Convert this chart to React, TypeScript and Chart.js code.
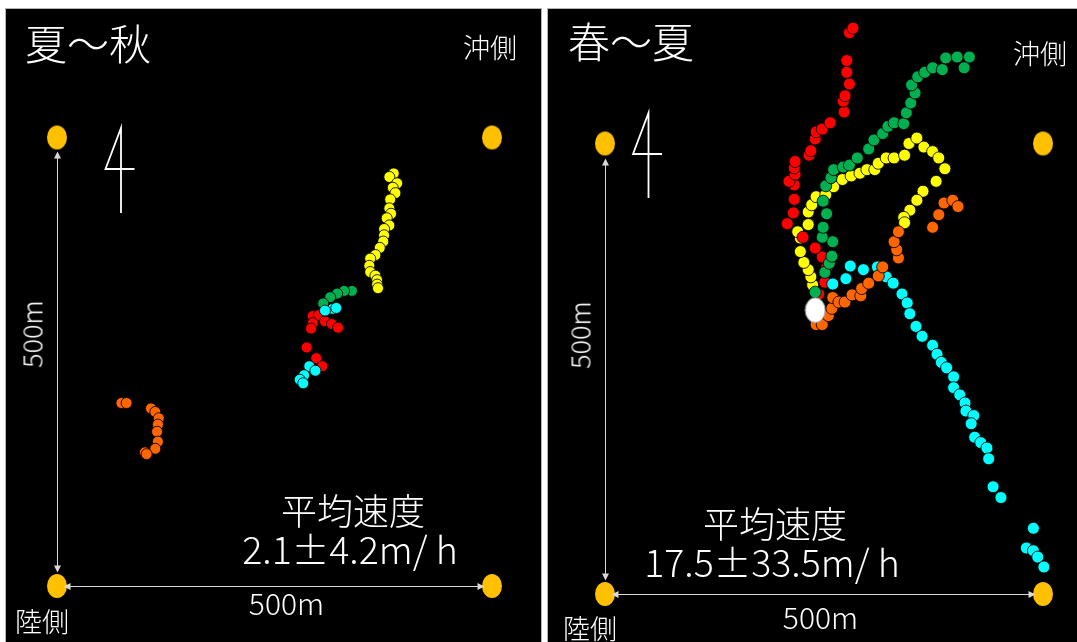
import React, { useEffect, useRef } from "react";
import { Chart, registerables } from "chart.js";

Chart.register(...registerables);

// Coordinates in metres. Origin = land-side corner buoy (陸側), x to the right, y toward the offshore side.
const buoys: [number, number][] = [[0, 0], [500, 0], [0, 500], [500, 500]];

// 夏〜秋
const akiYellow: [number, number][] = [[387,460],[382,456],[391,449],[386,444],[389,438],[383,431],[382,421],[384,415],[379,410],[382,402],[376,398],[376,391],[375,384],[371,377],[366,369],[360,365],[359,357],[360,350],[366,346],[368,341],[368,336],[369,332]];
const akiGreen: [number, number][] = [[339,329],[330,329],[322,326],[314,322],[306,315]];
const akiCyan: [number, number][] = [[317,309],[321,310],[308,307],[290,245],[297,240],[284,235],[279,230],[283,226]];
const akiRed: [number, number][] = [[294,301],[301,302],[308,295],[316,292],[323,288],[294,293],[292,287],[287,266],[298,254],[305,245]];
const akiOrange: [number, number][] = [[74,204],[80,204],[108,198],[113,194],[117,187],[116,180],[115,172],[116,161],[113,153],[101,149],[103,147]];

// 春〜夏
const haruRed: [number, number][] = [[244,333],[251,346],[253,362],[248,374],[240,384],[226,396],[208,411],[215,423],[216,438],[216,454],[210,458],[217,466],[216,473],[217,480],[233,487],[235,492],[240,505],[241,513],[248,516],[257,523],[273,535],[272,547],[274,553],[279,566],[276,579],[276,592],[279,623],[283,628]];
const haruGreen: [number, number][] = [[240,335],[251,357],[256,367],[259,375],[260,391],[248,396],[249,407],[253,422],[249,436],[252,453],[258,462],[261,471],[272,474],[279,476],[288,484],[301,494],[307,504],[317,511],[323,519],[330,523],[341,522],[344,534],[349,545],[354,556],[350,565],[357,574],[365,579],[374,584],[385,582],[389,595],[402,596],[416,596],[410,584]];
const haruYellow: [number, number][] = [[237,343],[235,352],[232,360],[227,368],[223,380],[223,395],[220,402],[232,410],[232,424],[236,432],[241,441],[252,443],[261,452],[271,460],[281,464],[291,467],[299,471],[308,471],[312,478],[321,484],[330,484],[342,487],[347,500],[356,506],[364,496],[374,491],[381,484],[388,472],[378,458],[363,447],[356,437],[348,426],[341,418],[342,412]];
const haruCyan: [number, number][] = [[260,344],[275,350],[280,364],[295,360],[311,363],[321,352],[329,345],[339,333],[345,323],[348,311],[355,297],[362,286],[374,276],[379,266],[384,257],[390,251],[398,241],[398,229],[405,221],[411,212],[412,203],[421,198],[418,189],[422,174],[429,168],[436,162],[438,150],[443,119],[452,107],[489,73],[481,51],[489,48],[494,41],[501,30]];
const haruOrange: [number, number][] = [[241,299],[248,299],[255,309],[259,317],[260,329],[267,324],[274,324],[282,332],[292,331],[293,339],[301,345],[312,353],[317,363],[335,373],[333,382],[330,391],[335,402],[374,407],[381,421],[387,434],[397,437],[403,430]];
const haruStart: [number, number][] = [[240,315]];

const titles = ["夏〜秋", "春〜夏"];
const speedLabel = "平均速度";
const speeds = ["2.1±4.2m/ h", "17.5±33.5m/ h"];
const sideOff = "沖側";
const sideLand = "陸側";
const distLabel = "500m";

const RED = "#FF0000";
const GREEN = "#00B050";
const YELLOW = "#FFFF00";
const CYAN = "#00FFFF";
const ORANGE = "#FF6600";
const BUOY = "#FFC000";
const FONT = "'Noto Sans CJK JP Light', 'Noto Sans CJK JP', 'Noto Sans', sans-serif";

function ellipseImage(w: number, h: number, fill: string, stroke?: string) {
  const c = document.createElement("canvas");
  c.width = w + 2;
  c.height = h + 2;
  const g = c.getContext("2d")!;
  g.beginPath();
  g.ellipse((w + 2) / 2, (h + 2) / 2, w / 2, h / 2, 0, 0, Math.PI * 2);
  g.fillStyle = fill;
  g.fill();
  if (stroke) {
    g.strokeStyle = stroke;
    g.lineWidth = 1;
    g.stroke();
  }
  return c;
}

function head(ctx: CanvasRenderingContext2D, tx: number, ty: number, ux: number, uy: number) {
  const L = 7, W = 3.5;
  ctx.beginPath();
  ctx.moveTo(tx, ty);
  ctx.lineTo(tx - ux * L - uy * W, ty - uy * L + ux * W);
  ctx.lineTo(tx - ux * L + uy * W, ty - uy * L - ux * W);
  ctx.closePath();
  ctx.fill();
}

const decorPlugin = {
  id: "decor",
  afterDatasetsDraw(chart: any, _args: any, opts: any) {
    const { ctx } = chart;
    const xs = chart.scales.x, ys = chart.scales.y;
    const x0 = Math.round(xs.getPixelForValue(0)) + 0.5;
    const x5 = Math.round(xs.getPixelForValue(500)) + 0.5;
    const y0 = Math.round(ys.getPixelForValue(0)) + 0.5;
    const y5 = Math.round(ys.getPixelForValue(500)) + 0.5;
    ctx.save();
    ctx.strokeStyle = "#d9d9d9";
    ctx.fillStyle = "#d9d9d9";
    ctx.lineWidth = 1;
    // vertical 500 m arrow
    const vt = y5 + 14, vb = y0 - 14;
    ctx.beginPath();
    ctx.moveTo(x0, vt + 5);
    ctx.lineTo(x0, vb - 5);
    ctx.stroke();
    head(ctx, x0, vt, 0, -1);
    head(ctx, x0, vb, 0, 1);
    // horizontal 500 m arrow
    const hl = x0 + 6, hr = x5 - 8;
    ctx.beginPath();
    ctx.moveTo(hl + 5, y0);
    ctx.lineTo(hr - 5, y0);
    ctx.stroke();
    head(ctx, hl, y0, -1, 0);
    head(ctx, hr, y0, 1, 0);
    // north mark
    const nx = x0 + opts.north.dx, ny = y5 + opts.north.dy;
    ctx.strokeStyle = "#ffffff";
    ctx.lineWidth = 1.8;
    ctx.beginPath();
    ctx.moveTo(nx, ny + 85);
    ctx.lineTo(nx, ny);
    ctx.lineTo(nx - 15.5, ny + 41);
    ctx.lineTo(nx + 13.5, ny + 41);
    ctx.stroke();
    ctx.restore();
  },
};

type Series = { data: [number, number][]; color: string; order: number };
type PanelCfg = {
  left: number; top: number; width: number; height: number;
  px: { x0: number; x500: number; y0: number; y500: number };
  radius: number;
  north: { dx: number; dy: number };
  series: Series[];
  start?: [number, number][];
};

function Panel({ cfg }: { cfg: PanelCfg }) {
  const ref = useRef<HTMLCanvasElement>(null);
  useEffect(() => {
    const canvas = ref.current!;
    const { x0, x500, y0, y500 } = cfg.px;
    const kx = (x500 - x0) / 500;
    const xmin = -x0 / kx;
    const xmax = xmin + cfg.width / kx;
    const ky = (y0 - y500) / 500;
    const ymax = 500 + y500 / ky;
    const ymin = ymax - cfg.height / ky;
    const buoyImg = ellipseImage(20, 24, BUOY);
    const datasets: any[] = cfg.series.map((s) => ({
      data: s.data,
      backgroundColor: s.color,
      borderColor: "rgba(0,0,0,0.85)",
      borderWidth: 1,
      pointRadius: cfg.radius,
      order: s.order,
    }));
    datasets.push({
      data: buoys,
      pointStyle: buoyImg,
      pointRadius: 10,
      order: 10,
    });
    if (cfg.start) {
      datasets.push({
        data: cfg.start,
        pointStyle: ellipseImage(20, 25, "#FFFFFF", "#9a9a9a"),
        pointRadius: 10,
        order: 0,
      });
    }
    const chart = new Chart(canvas, {
      type: "scatter",
      data: { datasets },
      options: {
        animation: false,
        responsive: false,
        maintainAspectRatio: false,
        devicePixelRatio: 1,
        events: [],
        layout: { padding: 0, autoPadding: false },
        plugins: { legend: { display: false }, tooltip: { enabled: false }, decor: { north: cfg.north } } as any,
        scales: {
          x: { type: "linear", display: false, min: xmin, max: xmax, bounds: "data" },
          y: { type: "linear", display: false, min: ymin, max: ymax, bounds: "data" },
        },
      },
      plugins: [decorPlugin],
    });
    return () => chart.destroy();
  }, [cfg]);
  return (
    <canvas
      ref={ref}
      width={cfg.width}
      height={cfg.height}
      style={{ position: "absolute", left: cfg.left, top: cfg.top, width: cfg.width, height: cfg.height }}
    />
  );
}

const leftCfg: PanelCfg = {
  left: 6, top: 9, width: 535, height: 633,
  px: { x0: 51, x500: 486, y0: 577, y500: 128.5 },
  radius: 5.5,
  north: { dx: 63.5, dy: -9.5 },
  series: [
    { data: akiYellow, color: YELLOW, order: 5 },
    { data: akiRed, color: RED, order: 3 },
    { data: akiGreen, color: GREEN, order: 4 },
    { data: akiCyan, color: CYAN, order: 2 },
    { data: akiOrange, color: ORANGE, order: 1 },
  ],
};

const rightCfg: PanelCfg = {
  left: 548, top: 9, width: 529, height: 633,
  px: { x0: 57, x500: 495, y0: 585, y500: 134.5 },
  radius: 6,
  north: { dx: 43, dy: -31.5 },
  series: [
    { data: haruYellow, color: YELLOW, order: 5 },
    { data: haruRed, color: RED, order: 4 },
    { data: haruGreen, color: GREEN, order: 3 },
    { data: haruCyan, color: CYAN, order: 2 },
    { data: haruOrange, color: ORANGE, order: 1 },
  ],
  start: haruStart,
};

const txt = (extra: React.CSSProperties): React.CSSProperties => ({
  position: "absolute",
  color: "#ffffff",
  fontFamily: FONT,
  fontWeight: 300,
  lineHeight: 1,
  whiteSpace: "nowrap",
  ...extra,
});

function Label({ x, y, size, text, center, rotate, weight }: { x: number; y: number; size: number; text: string; center?: boolean; rotate?: boolean; weight?: number }) {
  let transform: string | undefined;
  if (rotate) transform = "translate(-50%, -50%) rotate(-90deg)";
  else if (center) transform = "translateX(-50%)";
  return <div style={txt({ left: x, top: y, fontSize: size, transform, fontWeight: weight ?? 300 })}>{text}</div>;
}

export default function App() {
  return (
    <div style={{ position: "fixed", left: 0, top: 0, width: 1077, height: 642, background: "#ffffff", overflow: "hidden" }}>
      <div style={{ position: "absolute", left: 6, top: 9, width: 535, height: 633, background: "#000", outline: "1px solid #b4b4b4" }} />
      <div style={{ position: "absolute", left: 548, top: 9, width: 529, height: 633, background: "#000", outline: "1px solid #b4b4b4" }} />
      <Panel cfg={leftCfg} />
      <Panel cfg={rightCfg} />

      <Label x={25} y={20.5} size={42} text={titles[0]} />
      <Label x={463} y={33} size={27} text={sideOff} weight={400} />
      <Label x={15} y={607} size={27} text={sideLand} weight={400} />
      <Label x={31} y={334} size={27} text={distLabel} rotate />
      <Label x={286.5} y={587} size={30} text={distLabel} center />
      <Label x={353} y={491} size={36} text={speedLabel} center />
      <Label x={350} y={529.4} size={37.5} text={speeds[0]} center />

      <Label x={568} y={18.5} size={42} text={titles[1]} />
      <Label x={1013} y={39} size={27} text={sideOff} weight={400} />
      <Label x={563} y={614} size={27} text={sideLand} weight={400} />
      <Label x={579} y={335} size={27} text={distLabel} rotate />
      <Label x={820.5} y={601} size={30} text={distLabel} center />
      <Label x={775} y={504} size={36} text={speedLabel} center />
      <Label x={772} y={542.4} size={37.5} text={speeds[1]} center />
    </div>
  );
}
